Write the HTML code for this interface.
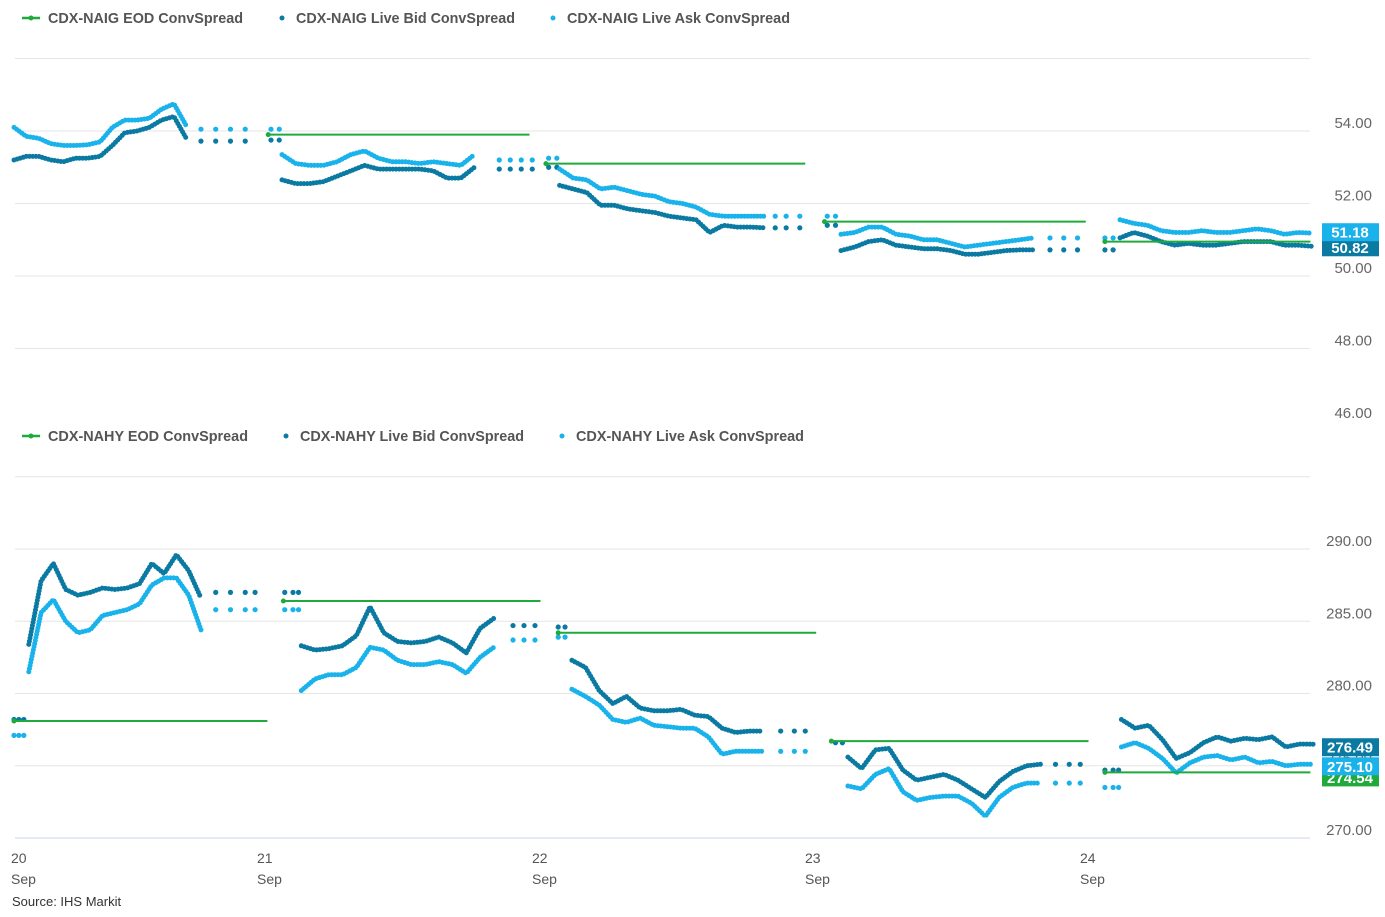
<!DOCTYPE html>
<html><head><meta charset="utf-8"><style>
body{margin:0;background:#fff;}
svg{display:block;font-family:"Liberation Sans",sans-serif;}
</style></head><body>
<svg id="c" width="1385" height="917" viewBox="0 0 1385 917" xmlns="http://www.w3.org/2000/svg"></svg>
<script>
// ---- shared x axis (days) ----
const dayLabels = ["20","21","22","23","24"];
// ---- NAIG (top) data: per day segments, main start fraction, step 0.05 ----
const igMainStart = [0.0, 0.08, 0.09, 0.12, 0.135];
const igAsk = [
 [54.1,53.85,53.8,53.65,53.6,53.6,53.62,53.7,54.1,54.3,54.3,54.35,54.6,54.75,54.15],
 [53.35,53.1,53.05,53.05,53.15,53.35,53.45,53.25,53.15,53.15,53.1,53.15,53.1,53.05,53.35],
 [52.95,52.7,52.65,52.4,52.45,52.35,52.25,52.2,52.05,52.0,51.9,51.7,51.65,51.65,51.65,51.65],
 [51.15,51.2,51.35,51.35,51.15,51.1,51.0,51.0,50.9,50.8,50.85,50.9,50.95,51.0,51.05],
 [51.55,51.45,51.4,51.25,51.2,51.2,51.25,51.2,51.2,51.25,51.3,51.25,51.15,51.2,51.18]];
const igBid = [
 [53.2,53.3,53.3,53.2,53.15,53.25,53.25,53.3,53.6,53.95,54.0,54.1,54.3,54.4,53.8],
 [52.65,52.55,52.55,52.6,52.75,52.9,53.05,52.95,52.95,52.95,52.95,52.9,52.7,52.7,53.0],
 [52.5,52.4,52.3,51.95,51.95,51.85,51.8,51.75,51.65,51.6,51.55,51.2,51.4,51.35,51.35,51.33],
 [50.7,50.8,50.95,51.0,50.85,50.8,50.75,50.75,50.7,50.6,50.6,50.65,50.7,50.72,50.72],
 [51.05,51.2,51.1,50.95,50.85,50.9,50.85,50.85,50.9,50.95,50.95,50.95,50.85,50.85,50.82]];
// sparse (off-hours) dots: [dayIndex, fraction, ask, bid]
const igSparse = [
 [0,0.76,54.05,53.72],[0,0.82,54.05,53.72],[0,0.88,54.05,53.72],[0,0.94,54.05,53.72],
 [1,0.04,54.05,53.75],[1,0.07,54.05,53.75],[1,0.87,53.2,52.95],[1,0.91,53.2,52.95],[1,0.95,53.2,52.95],[1,0.99,53.2,52.95],
 [2,0.05,53.25,53.0],[2,0.08,53.25,53.0],[2,0.88,51.65,51.33],[2,0.92,51.65,51.33],[2,0.97,51.65,51.33],
 [3,0.07,51.65,51.4],[3,0.1,51.65,51.4],[3,0.88,51.05,50.72],[3,0.93,51.05,50.72],[3,0.98,51.05,50.72],
 [4,0.08,51.05,50.72],[4,0.11,51.05,50.72]];
const igEod = [[1,0.03,0.98,53.9],[2,0.04,0.99,53.1],[3,0.06,1.01,51.5],[4,0.08,0.83,50.95]];
const igTicks = [56,54,52,50,48,46];
// ---- NAHY (bottom) data ----
const hyMainStart = [0.06, 0.15, 0.135, 0.145, 0.14];
const hyBid = [
 [283.4,287.8,289.0,287.2,286.8,287.0,287.3,287.2,287.3,287.6,289.0,288.3,289.6,288.5,286.6],
 [283.3,283.0,283.1,283.3,284.0,286.0,284.2,283.6,283.5,283.6,283.9,283.5,282.8,284.5,285.2],
 [282.3,281.8,280.2,279.3,279.8,279.0,278.8,278.8,278.9,278.5,278.4,277.6,277.3,277.4,277.4],
 [275.6,274.8,276.1,276.2,274.7,274.0,274.2,274.4,274.0,273.4,272.8,273.9,274.6,275.0,275.1],
 [278.2,277.6,277.8,276.8,275.5,275.9,276.6,277.0,276.7,276.9,276.8,277.0,276.3,276.5,276.49]];
const hyAsk = [
 [281.5,285.6,286.5,285.0,284.2,284.4,285.4,285.6,285.8,286.2,287.5,288.0,288.0,286.8,284.4],
 [280.2,281.0,281.3,281.3,281.8,283.2,283.0,282.3,282.0,282.0,282.2,282.0,281.4,282.5,283.2],
 [280.3,279.8,279.2,278.2,278.0,278.3,277.8,277.7,277.6,277.6,277.0,275.8,276.0,276.0,276.0],
 [273.6,273.4,274.4,274.8,273.2,272.6,272.8,272.9,272.9,272.4,271.5,272.8,273.5,273.8,273.8],
 [276.3,276.6,276.2,275.5,274.5,275.2,275.6,275.7,275.4,275.6,275.2,275.3,275.0,275.1,275.10]];
const hySparse = [
 [0,0.0,277.1,278.2],[0,0.02,277.1,278.2],[0,0.04,277.1,278.2],
 [0,0.82,285.8,287.0],[0,0.88,285.8,287.0],[0,0.94,285.8,287.0],[0,0.98,285.8,287.0],
 [1,0.09,285.8,287.0],[1,0.12,285.8,287.0],[1,0.14,285.8,287.0],
 [1,0.92,283.7,284.7],[1,0.96,283.7,284.7],[1,1.0,283.7,284.7],
 [2,0.085,283.9,284.6],[2,0.11,283.9,284.6],[2,0.9,276.0,277.4],[2,0.95,276.0,277.4],[2,0.99,276.0,277.4],
 [3,0.1,276.6,276.6],[3,0.125,276.6,276.6],[3,0.9,273.8,275.1],[3,0.95,273.8,275.1],[3,0.99,273.8,275.1],
 [4,0.08,273.5,274.7],[4,0.11,273.5,274.7],[4,0.13,273.5,274.7]];
const hyEod = [[0,0.0,1.03,278.1],[1,0.085,1.02,286.4],[2,0.085,1.03,284.2],[3,0.085,1.02,276.7],[4,0.08,0.83,274.54]];
const hyTicks = [295,290,285,280,275,270];

const dayPos = [14,260,535,808,1083,1357];
function xs(d,f){return dayPos[d]+f*(dayPos[d+1]-dayPos[d]);}
const yIG = v => 131 + (54 - v) * 36.25;
const yHY = v => 549 + (290 - v) * 14.45;

const NS="http://www.w3.org/2000/svg";
const svg=document.getElementById('c');
function mk(tag,attrs,parent){const e=document.createElementNS(NS,tag);for(const k in attrs)e.setAttribute(k,attrs[k]);(parent||svg).appendChild(e);return e;}
const C_ASK="#19b2ea", C_BID="#0b7aa3", C_EOD="#1faa3b";

function gridAndAxis(ticks,ys,name,isBottom){
  const g=mk('g',{});
  
  
  ticks.forEach((t,i)=>{
    const y=ys(t);
    if(i<ticks.length-1 || isBottom){
      const l=mk('line',{x1:15,x2:1310,y1:y,y2:y,stroke:(isBottom&&i===ticks.length-1)?'#ccd6eb':'#e6e6e6','stroke-width':1},g);
      
      
    }
    if(i>0){
      const tx=mk('text',{x:1372,y:y-3,'text-anchor':'end','font-size':15,fill:'#666'},g);
      tx.textContent=t.toFixed(2);
      
      
    }
  });
}
gridAndAxis(igTicks,yIG,'naig',false);
gridAndAxis(hyTicks,yHY,'nahy',true);

function drawSeries(mainStart,vals,sparse,sIdx,ys,color,name){
  const g=mk('g',{});
  
  
  vals.forEach((arr,d)=>{
    const pts=arr.map((v,i)=>xs(d,mainStart[d]+i*0.05).toFixed(1)+','+ys(v).toFixed(1)).join(' ');
    const p=mk('polyline',{points:pts,fill:'none',stroke:color,'stroke-width':5,'stroke-linecap':'round','stroke-linejoin':'round','stroke-dasharray':'0 3.2'},g);
    
    
  });
  sparse.forEach(s=>{
    const c=mk('circle',{cx:xs(s[0],s[1]),cy:ys(s[sIdx]),r:2.6,fill:color},g);
    
    
  });
}
function drawEod(eod,ys,name){
  eod.forEach(e=>{
    const l=mk('line',{x1:xs(e[0],e[1]),x2:xs(e[0],e[2]),y1:ys(e[3]),y2:ys(e[3]),stroke:C_EOD,'stroke-width':2});
    
    
    const c=mk('circle',{cx:xs(e[0],e[1]),cy:ys(e[3]),r:2.5,fill:C_EOD});
    
    
  });
}
drawSeries(igMainStart,igBid,igSparse,3,yIG,C_BID,'naig-bid-series');
drawSeries(igMainStart,igAsk,igSparse,2,yIG,C_ASK,'naig-ask-series');
drawEod(igEod,yIG,'naig-eod-line');
drawSeries(hyMainStart,hyAsk,hySparse,2,yHY,C_ASK,'nahy-ask-series');
drawSeries(hyMainStart,hyBid,hySparse,3,yHY,C_BID,'nahy-bid-series');
drawEod(hyEod,yHY,'nahy-eod-line');

// last value labels
function lastLabel(v,ys,color,name,dy){
  const y=ys(v)+dy;
  const g=mk('g',{});
  
  
  mk('rect',{x:1322,y:y-9,width:57,height:18,fill:color},g);
  const t=mk('text',{x:1350,y:y+5.5,'text-anchor':'middle','font-size':15,'font-weight':'bold',fill:'#fff'},g);
  t.textContent=v.toFixed(2);
}
lastLabel(igBid[4][14],yIG,C_BID,'naig-bid-last-label',1);
lastLabel(igAsk[4][14],yIG,C_ASK,'naig-ask-last-label',-1);
lastLabel(hyEod[4][3],yHY,C_EOD,'nahy-eod-last-label',5);
lastLabel(hyAsk[4][14],yHY,C_ASK,'nahy-ask-last-label',2);
lastLabel(hyBid[4][14],yHY,C_BID,'nahy-bid-last-label',3);

// x axis labels
dayLabels.forEach((d,i)=>{
  const t=mk('text',{x:dayPos[i]-3,y:863,'font-size':14,fill:'#555'});
  t.textContent=d;
  
  
  const s=mk('text',{x:dayPos[i]-3,y:884,'font-size':14,fill:'#555'});
  s.textContent='Sep';
  
  
});
const src=mk('text',{x:12,y:906,'font-size':13,fill:'#333'});
src.textContent='Source: IHS Markit';



// legends
function legend(y,labels,xsArr,name){
  const g=mk('g',{});
  
  
  labels.forEach((lab,i)=>{
    const e=mk('g',{},g);
    
    
    const x=xsArr[i];
    if(i===0){
      mk('line',{x1:x-26,x2:x-8,y1:y,y2:y,stroke:C_EOD,'stroke-width':2.5},e);
      mk('circle',{cx:x-17,cy:y,r:2.5,fill:C_EOD},e);
    } else {
      mk('circle',{cx:x-14,cy:y,r:2.5,fill:i===1?C_BID:C_ASK},e);
    }
    const t=mk('text',{x:x,y:y+5,'font-size':15,'font-weight':'bold',fill:'#555',textLength:lab[1],lengthAdjust:'spacingAndGlyphs'},e);
    t.textContent=lab[0];
  });
}
legend(18,[["CDX-NAIG EOD ConvSpread",195],["CDX-NAIG Live Bid ConvSpread",219],["CDX-NAIG Live Ask ConvSpread",223]],[48,296,567],'naig-legend');
legend(436,[["CDX-NAHY EOD ConvSpread",200],["CDX-NAHY Live Bid ConvSpread",224],["CDX-NAHY Live Ask ConvSpread",228]],[48,300,576],'nahy-legend');
</script>
</body></html>
